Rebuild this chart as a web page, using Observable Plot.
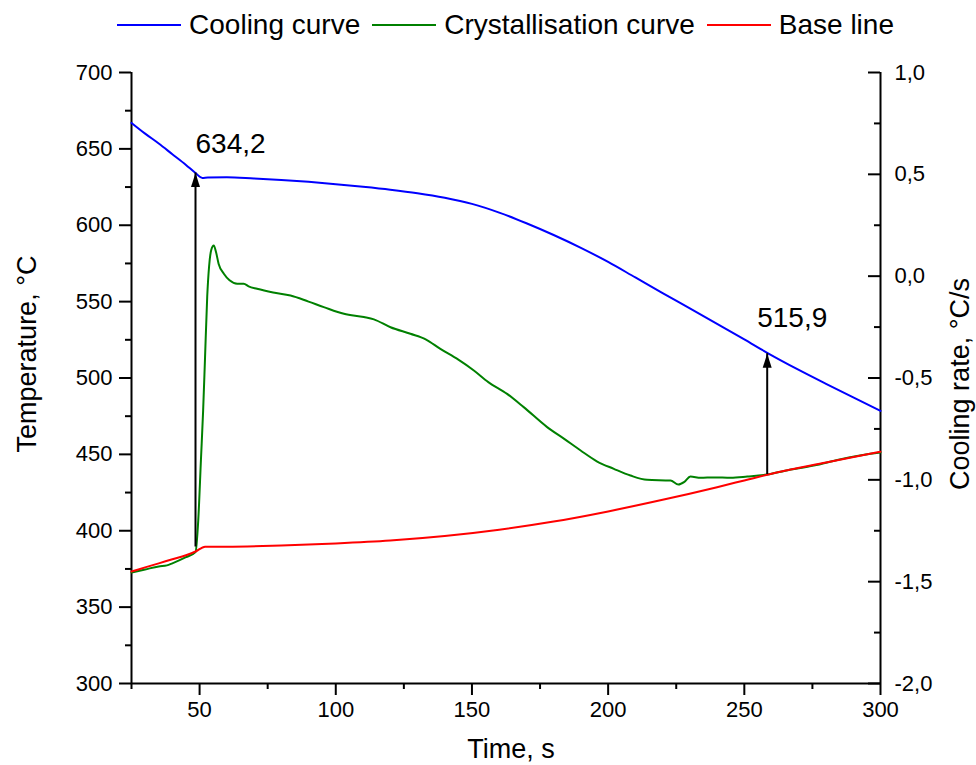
<!DOCTYPE html>
<html>
<head>
<meta charset="utf-8">
<script src="https://cdn.jsdelivr.net/npm/d3@7"></script>
<script src="https://cdn.jsdelivr.net/npm/@observablehq/plot@0.6"></script>
<style>
  html, body { margin: 0; padding: 0; background: #fff; }
  body { width: 976px; height: 765px; overflow: hidden; font-family: "Liberation Sans", Arial, sans-serif; }
  #legend { height: 50px; box-sizing: border-box; padding: 0 96px 0 131px; display: flex; justify-content: center; align-items: center; gap: 12px; font-size: 28px; color: #000; }
  #legend .item { display: flex; align-items: center; gap: 8px; white-space: nowrap; }
  #legend svg { display: block; }
</style>
</head>
<body>
<div id="legend"></div>
<div id="chart"></div>
<script>
// ---- data ----
const coolTime = [25, 30, 35, 40, 45, 48.5, 51, 53, 60, 70, 80, 90, 100, 110, 120, 130, 140, 150, 160, 170, 180, 190, 200, 210, 220, 230, 240, 250, 258.4, 270, 280, 290, 300];
const coolTemp = [667, 660, 653.5, 646.5, 639.5, 634.2, 631, 631.3, 631.5, 630.6, 629.6, 628.4, 626.9, 625.2, 623.3, 621, 618, 614, 608.3, 601.3, 593.6, 585.2, 576, 565.8, 555.6, 545.6, 535.5, 525.3, 516.5, 505.3, 496.2, 487.3, 478.5];

const crystTime = [25, 30, 35, 38, 40, 45, 48.5, 49.5, 50.5, 51.3, 52, 52.8, 53.5, 54.3, 55.2, 56, 57, 58.9, 61, 63.8, 66.2, 68, 71.1, 77, 83.4, 90, 95.6, 103, 110.3, 114, 120.1, 127.4, 133, 138.4, 145, 150.7, 156, 162.9, 169, 177.6, 184, 189.9, 196, 202.1, 208.2, 214.3, 222.9, 225.8, 228, 230.2, 234, 238.8, 245, 251.1, 258.4, 265, 275.5, 285, 296.3, 300];
const crystRate = [-1.455, -1.44, -1.425, -1.42, -1.41, -1.38, -1.355, -1.2, -0.9, -0.66, -0.4, -0.1, 0.05, 0.13, 0.15, 0.12, 0.06, 0.012, -0.02, -0.037, -0.037, -0.05, -0.062, -0.08, -0.095, -0.125, -0.152, -0.185, -0.201, -0.212, -0.251, -0.283, -0.31, -0.357, -0.41, -0.463, -0.52, -0.578, -0.643, -0.741, -0.8, -0.856, -0.91, -0.946, -0.979, -1.0, -1.003, -1.023, -1.01, -0.984, -0.99, -0.988, -0.99, -0.984, -0.974, -0.955, -0.93, -0.9, -0.872, -0.866];

const baseTime = [25, 30, 35, 40, 45, 48.5, 52, 60, 80, 100, 120, 140, 160, 180, 200, 220, 240, 250, 260, 280, 300];
const baseRate = [-1.45, -1.43, -1.41, -1.39, -1.37, -1.352, -1.328, -1.328, -1.322, -1.312, -1.298, -1.276, -1.245, -1.205, -1.155, -1.098, -1.036, -1.003, -0.97, -0.915, -0.862];

const arrowTime = [48.5, 258.4];
const arrowFromRate = [-1.33, -0.974];
const arrowToTemp = [634.2, 515.9];

const tempTicks = [300, 350, 400, 450, 500, 550, 600, 650, 700];
const tempMinor = [325, 375, 425, 475, 525, 575, 625, 675];
const rateTicks = [-2.0, -1.5, -1.0, -0.5, 0.0, 0.5, 1.0];
const rateMinor = [-1.75, -1.25, -0.75, -0.25, 0.25, 0.75];
const timeTicks = [50, 100, 150, 200, 250, 300];
const timeMinor = [25, 75, 125, 175, 225, 275];

const seriesNames = ["Cooling curve", "Crystallisation curve", "Base line"];
const seriesColors = ["#0000ff", "#008000", "#ff0000"];

// ---- helpers ----
// right axis (cooling rate) mapped onto the temperature scale
const toT = r => 300 + (r + 2) * 400 / 3;
const toR = T => (T - 300) * 3 / 400 - 2;
const comma = v => v.toFixed(1).replace(".", ",");

const cool = coolTime.map((t, i) => ({t, v: coolTemp[i]}));
const cryst = crystTime.map((t, i) => ({t, v: toT(crystRate[i])}));
const base = baseTime.map((t, i) => ({t, v: toT(baseRate[i])}));
const arrows = arrowTime.map((t, i) => ({t, y1: toT(arrowFromRate[i]), y2: arrowToTemp[i], label: comma(arrowToTemp[i])}));

const headSymbol = {draw(ctx) { ctx.moveTo(0, 0); ctx.lineTo(-4.5, 14); ctx.lineTo(4.5, 14); ctx.closePath(); }};

const font = "Liberation Sans, Arial, sans-serif";
const W = 976, ML = 131, MR = 96, MT = 22, MB = 82, H = 715;
const FW = W - ML - MR, FH = H - MT - MB;

const chart = Plot.plot({
  width: W,
  height: H,
  marginTop: MT,
  marginBottom: MB,
  marginLeft: ML,
  marginRight: MR,
  style: {fontFamily: font, color: "#000", background: "#fff"},
  x: {domain: [25, 300], axis: null},
  y: {domain: [300, 700], axis: null},
  marks: [
    // left axis ticks (outward)
    Plot.tickY(tempTicks, {y: d => d, insetLeft: -12, insetRight: FW, stroke: "#000", strokeWidth: 2}),
    Plot.tickY(tempMinor, {y: d => d, insetLeft: -6, insetRight: FW, stroke: "#000", strokeWidth: 2}),
    Plot.axisY(tempTicks, {anchor: "left", tickSize: 0, tickPadding: 19, fontSize: 22, stroke: "none", label: null, tickFormat: d => String(d)}),
    // right axis ticks (inward)
    Plot.tickY(rateTicks.map(toT), {y: d => d, insetLeft: FW - 12, stroke: "#000", strokeWidth: 2}),
    Plot.tickY(rateMinor.map(toT), {y: d => d, insetLeft: FW - 6, stroke: "#000", strokeWidth: 2}),
    Plot.axisY(rateTicks.map(toT), {anchor: "right", tickSize: 0, tickPadding: 14, fontSize: 22, stroke: "none", label: null, tickFormat: d => comma(toR(d))}),
    // bottom axis ticks (outward)
    Plot.tickX(timeTicks, {x: d => d, insetTop: FH, insetBottom: -12, stroke: "#000", strokeWidth: 2}),
    Plot.tickX(timeMinor, {x: d => d, insetTop: FH, insetBottom: -6, stroke: "#000", strokeWidth: 2}),
    Plot.axisX(timeTicks, {anchor: "bottom", tickSize: 0, tickPadding: 18, fontSize: 22, stroke: "none", label: null, tickFormat: d => String(d)}),
    // axis lines
    Plot.ruleX([25], {stroke: "#000", strokeWidth: 2}),
    Plot.ruleX([300], {stroke: "#000", strokeWidth: 2}),
    Plot.ruleY([300], {stroke: "#000", strokeWidth: 2}),
    // axis titles
    Plot.text(["Temperature, °C"], {frameAnchor: "left", textAnchor: "middle", rotate: -90, dx: -104, dy: -24, fontSize: 27, fill: "#000"}),
    Plot.text(["Cooling rate, °C/s"], {frameAnchor: "right", textAnchor: "middle", rotate: -90, dx: 80, dy: 6, fontSize: 27, fill: "#000"}),
    Plot.text(["Time, s"], {frameAnchor: "bottom", textAnchor: "middle", dx: 5, dy: 74, fontSize: 27, fill: "#000"}),
    // series
    Plot.line(cool, {x: "t", y: "v", stroke: seriesColors[0], strokeWidth: 2, curve: "monotone-x"}),
    Plot.line(cryst, {x: "t", y: "v", stroke: seriesColors[1], strokeWidth: 2, curve: "monotone-x"}),
    Plot.line(base, {x: "t", y: "v", stroke: seriesColors[2], strokeWidth: 2, curve: "monotone-x"}),
    // arrows
    Plot.ruleX(arrows, {x: "t", y1: "y1", y2: "y2", stroke: "#000", strokeWidth: 2}),
    Plot.dot(arrows, {x: "t", y: "y2", symbol: headSymbol, fill: "#000", stroke: "none", r: 5}),
    Plot.text(arrows.slice(0, 1), {x: "t", y: "y2", text: "label", textAnchor: "start", dy: -29, fontSize: 28, fill: "#000"}),
    Plot.text(arrows.slice(1, 2), {x: "t", y: "y2", text: "label", textAnchor: "start", dx: -10, dy: -36, fontSize: 28, fill: "#000"})
  ]
});
document.getElementById("chart").appendChild(chart);

// legend
const legend = document.getElementById("legend");
seriesNames.forEach((name, i) => {
  const item = document.createElement("div");
  item.className = "item";
  item.innerHTML = `<svg width="64" height="4"><line x1="0" y1="2" x2="64" y2="2" stroke="${seriesColors[i]}" stroke-width="2"/></svg><span>${name}</span>`;
  legend.appendChild(item);
});
</script>
</body>
</html>
